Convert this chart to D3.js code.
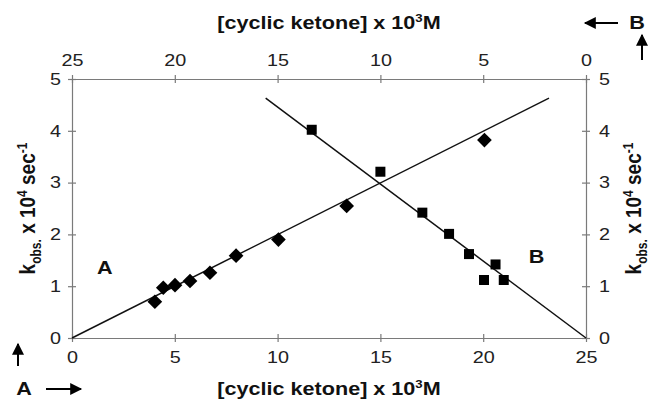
<!DOCTYPE html>
<html>
<head>
<meta charset="utf-8">
<script src="https://cdn.jsdelivr.net/npm/d3@7"></script>
<style>
  body { margin: 0; background: #fff; }
  svg { display: block; font-family: "Liberation Sans", Arial, sans-serif; }
</style>
</head>
<body>
<svg id="chart" width="652" height="403"></svg>
<script>
// Serie A: Konzentration (untere Achse) vs k_obs
const seriesA = [
  { c: 4.03, k: 0.70 },
  { c: 4.44, k: 0.97 },
  { c: 5.01, k: 1.02 },
  { c: 5.74, k: 1.10 },
  { c: 6.71, k: 1.26 },
  { c: 7.98, k: 1.59 },
  { c: 10.04, k: 1.90 },
  { c: 13.36, k: 2.55 },
  { c: 20.06, k: 3.82 }
];
// Serie B: Konzentration (obere Achse, umgekehrt) vs k_obs
const seriesB = [
  { c: 13.34, k: 4.02 },
  { c: 10.0, k: 3.21 },
  { c: 7.96, k: 2.42 },
  { c: 6.66, k: 2.01 },
  { c: 5.69, k: 1.62 },
  { c: 4.40, k: 1.42 },
  { c: 4.96, k: 1.12 },
  { c: 4.00, k: 1.12 }
];
// Regressionsgeraden (Endpunkte)
const fitA = [{ c: 0, k: 0 }, { c: 23.2, k: 4.63 }];
const fitB = [{ c: 15.58, k: 4.63 }, { c: 0, k: 0 }];

const xTicks = [0, 5, 10, 15, 20, 25];
const yTicks = [0, 1, 2, 3, 4, 5];

const svg = d3.select("#chart");
const margin = { top: 79, right: 66, bottom: 65, left: 72 };
const width = 652 - margin.left - margin.right;
const height = 403 - margin.top - margin.bottom;
const sx = 1.2; // Text ist im Original horizontal gestreckt

const xBottom = d3.scaleLinear().domain([0, 25]).range([0, width]);
const xTop = d3.scaleLinear().domain([25, 0]).range([0, width]);
const yScale = d3.scaleLinear().domain([0, 5]).range([height, 0]);

const g = svg.append("g").attr("transform", `translate(${margin.left},${margin.top})`);

const axisColor = "#7a7a7a";
const tickCol = "#222";
const fmt = d3.format("d");

function styleAxis(sel) {
  sel.select(".domain").attr("stroke", axisColor).attr("stroke-width", 1.2);
  sel.selectAll(".tick line").attr("stroke", axisColor).attr("stroke-width", 1.2);
  sel.selectAll(".tick text")
    .attr("fill", tickCol)
    .attr("font-size", "16.5px");
}

// Achsen (Ticks kreuzen die Achsenlinie)
const bottomAxis = g.append("g")
  .attr("transform", `translate(0,${height})`)
  .call(d3.axisBottom(xBottom).tickValues(xTicks).tickFormat(fmt).tickSize(5).tickSizeOuter(0).tickPadding(8));
bottomAxis.selectAll(".tick line").attr("y1", -4).attr("y2", 4);
styleAxis(bottomAxis);

const topAxis = g.append("g")
  .call(d3.axisTop(xTop).tickValues(xTicks).tickFormat(fmt).tickSize(5).tickSizeOuter(0).tickPadding(8));
topAxis.selectAll(".tick line").attr("y1", -4).attr("y2", 4);
styleAxis(topAxis);

const leftAxis = g.append("g")
  .call(d3.axisLeft(yScale).tickValues(yTicks).tickFormat(fmt).tickSize(5).tickSizeOuter(0).tickPadding(6));
leftAxis.selectAll(".tick line").attr("x1", -4).attr("x2", 4);
styleAxis(leftAxis);

const rightAxis = g.append("g")
  .attr("transform", `translate(${width},0)`)
  .call(d3.axisRight(yScale).tickValues(yTicks).tickFormat(fmt).tickSize(5).tickSizeOuter(0).tickPadding(8));
rightAxis.selectAll(".tick line").attr("x1", -4).attr("x2", 4);
styleAxis(rightAxis);

// horizontale Streckung der Tick-Texte
[bottomAxis, topAxis, leftAxis, rightAxis].forEach(ax => {
  ax.selectAll(".tick text").each(function () {
    const t = d3.select(this);
    const x = +t.attr("x") || 0;
    const y = +t.attr("y") || 0;
    t.attr("x", 0).attr("y", 0)
      .attr("transform", `translate(${x},${y}) scale(${sx},1)`);
  });
});

// Geraden
const line = d3.line().x(d => xBottom(d.c)).y(d => yScale(d.k));
const lineB = d3.line().x(d => xTop(d.c)).y(d => yScale(d.k));

g.append("path").datum(fitA).attr("d", line)
  .attr("fill", "none").attr("stroke", "#111").attr("stroke-width", 1.5);
g.append("path").datum(fitB).attr("d", lineB)
  .attr("fill", "none").attr("stroke", "#111").attr("stroke-width", 1.5);

// Marker A: Rauten
g.selectAll(".dia").data(seriesA).enter().append("path")
  .attr("class", "dia")
  .attr("d", d3.symbol().type(d3.symbolSquare).size(108))
  .attr("transform", d => `translate(${xBottom(d.c)},${yScale(d.k)}) rotate(45)`)
  .attr("fill", "#000");

// Marker B: Quadrate
g.selectAll(".sq").data(seriesB).enter().append("path")
  .attr("class", "sq")
  .attr("d", d3.symbol().type(d3.symbolSquare).size(100))
  .attr("transform", d => `translate(${xTop(d.c)},${yScale(d.k)})`)
  .attr("fill", "#000");

// Titel
function xTitle(y) {
  const t = svg.append("text")
    .attr("text-anchor", "middle")
    .attr("font-weight", "bold")
    .attr("font-size", "18px")
    .attr("fill", "#111")
    .attr("transform", `translate(${margin.left + width / 2},${y}) scale(${sx},1)`);
  t.append("tspan").text("[cyclic ketone] x 10");
  t.append("tspan").attr("dy", -7).attr("font-size", "11px").text("3");
  t.append("tspan").attr("dy", 7).text("M");
}
xTitle(29);
xTitle(395);

function yTitle(x) {
  const t = svg.append("text")
    .attr("text-anchor", "middle")
    .attr("font-weight", "bold")
    .attr("font-size", "19px")
    .attr("fill", "#111")
    .attr("transform", `translate(${x},${margin.top + height / 2}) rotate(-90) scale(1,${sx})`);
  t.append("tspan").text("k");
  t.append("tspan").attr("dy", 5).attr("font-size", "12px").text("obs.");
  t.append("tspan").attr("dy", -5).text(" x 10");
  t.append("tspan").attr("dy", -7).attr("font-size", "12px").text("4");
  t.append("tspan").attr("dy", 7).text(" sec");
  t.append("tspan").attr("dy", -7).attr("font-size", "12px").text("-1");
}
yTitle(35);
yTitle(641);

// Beschriftungen A und B im Plot
svg.append("text").attr("font-weight", "bold").attr("font-size", "18px").attr("fill", "#111")
  .attr("transform", `translate(${margin.left + xBottom(1.6)},274) scale(${sx},1)`)
  .attr("text-anchor", "middle").text("A");
svg.append("text").attr("font-weight", "bold").attr("font-size", "18px").attr("fill", "#111")
  .attr("transform", `translate(${margin.left + xBottom(22.6)},263) scale(${sx},1)`)
  .attr("text-anchor", "middle").text("B");

// Pfeile
svg.append("defs").append("marker")
  .attr("id", "head").attr("viewBox", "0 0 10 10")
  .attr("refX", 9).attr("refY", 5)
  .attr("markerWidth", 6.5).attr("markerHeight", 6)
  .attr("orient", "auto")
  .append("path").attr("d", "M0,0 L10,5 L0,10 z").attr("fill", "#000");

function arrow(x1, y1, x2, y2) {
  svg.append("line")
    .attr("x1", x1).attr("y1", y1).attr("x2", x2).attr("y2", y2)
    .attr("stroke", "#000").attr("stroke-width", 2)
    .attr("marker-end", "url(#head)");
}
// unten links: A
arrow(18, 366, 18, 344);
arrow(46, 389, 81, 389);
svg.append("text").attr("font-weight", "bold").attr("font-size", "18px").attr("fill", "#111")
  .attr("transform", `translate(24,395) scale(${sx},1)`)
  .attr("text-anchor", "middle").text("A");
// oben rechts: B
arrow(618, 23, 585, 23);
arrow(642, 60, 642, 35);
svg.append("text").attr("font-weight", "bold").attr("font-size", "18px").attr("fill", "#111")
  .attr("transform", `translate(637,29) scale(${sx},1)`)
  .attr("text-anchor", "middle").text("B");
</script>
</body>
</html>
